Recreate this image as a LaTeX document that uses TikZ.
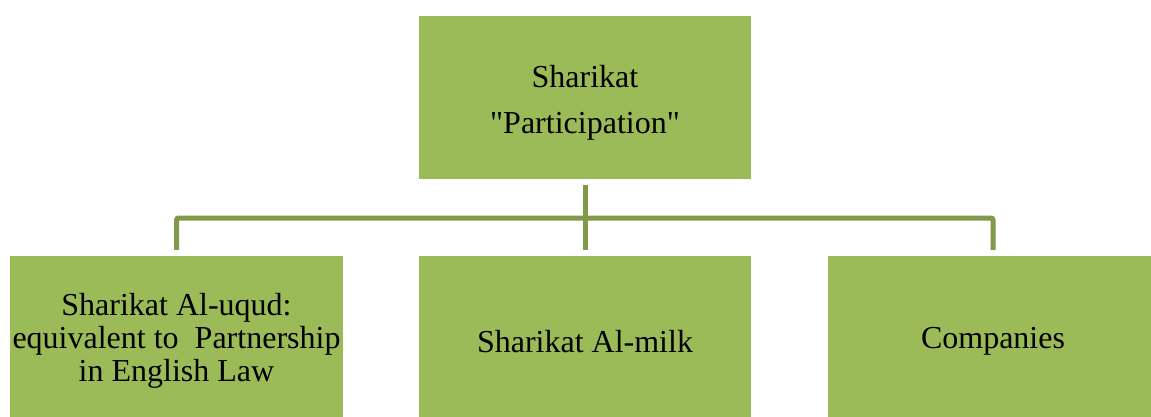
\documentclass[tikz,border=0pt]{standalone}
\usepackage{fontspec}
\setmainfont{Liberation Serif}
\newfontfamily\rawserif{Liberation Serif}
\definecolor{boxgreen}{HTML}{9BBB59}
\definecolor{linegreen}{HTML}{7F9A48}
\begin{document}
\begin{tikzpicture}[x=1pt,y=-1pt,
  box/.style={fill=boxgreen, draw=none, inner sep=0pt,
    minimum width=332pt, minimum height=163pt},
  txt/.style={inner sep=0pt, align=center, font=\rawserif\fontsize{32}{33}\selectfont},
  conn/.style={draw=linegreen, line width=5pt, rounded corners=2pt}]
\useasboundingbox (0,0) rectangle (1151,417);
\node[box] (top) at (585,97.5) {};
\node[box, minimum width=333pt] (b1) at (176.5,337.5) {};
\node[box] (b2) at (585,337.5) {};
\node[box, minimum width=330pt] (b3) at (993,337.5) {};
\node[txt, font=\rawserif\fontsize{32}{46}\selectfont] (t0) at ([yshift=-5pt]top.center) {Sharikat\\"Participation"};
\node[txt] (t1) at ([yshift=-3pt]b1.center) {Sharikat Al-uqud:\\equivalent to \ Partnership\\in English Law};
\node[txt] (t2) at ([yshift=-4pt]b2.center) {Sharikat Al-milk};
\node[txt] (t3) at ([yshift=-4pt]b3.center) {Companies};
\coordinate (hub) at (585,218);
\draw[conn] ([yshift=-6pt]top.south) -- ([yshift=6pt]b2.north);
\draw[conn] ([yshift=6pt]b1.north) |- (hub) -| ([yshift=6pt]b3.north);
\end{tikzpicture}
\end{document}
